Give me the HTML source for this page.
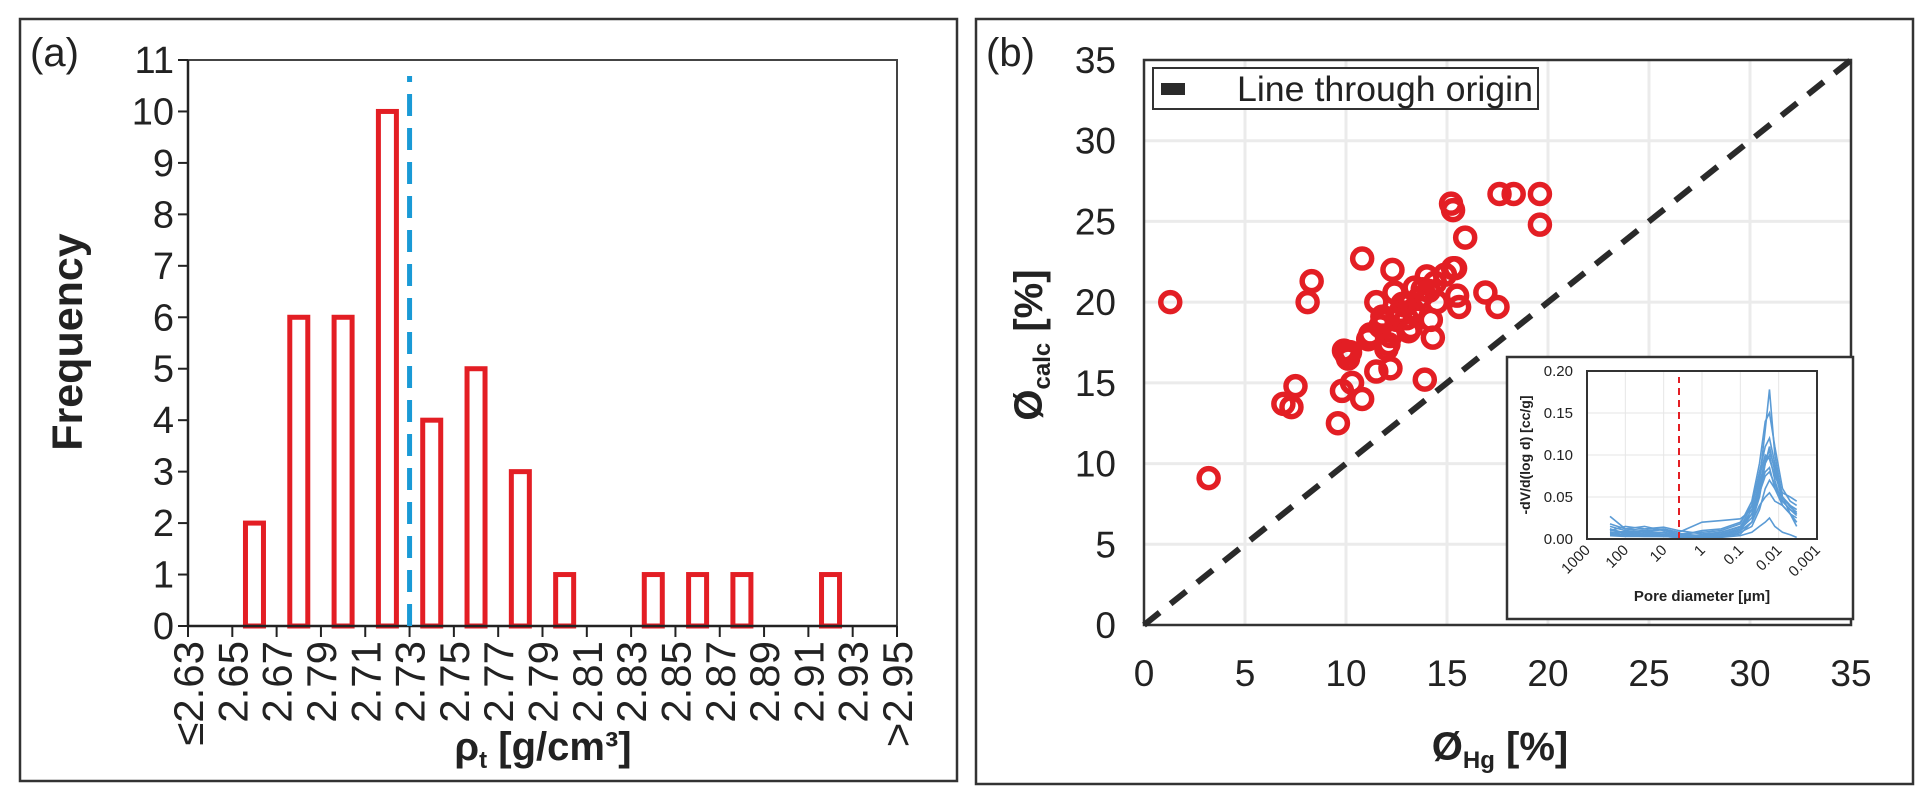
<!DOCTYPE html>
<html><head><meta charset="utf-8">
<style>
html,body{margin:0;padding:0;background:#fff;}
svg{display:block;font-family:"Liberation Sans",Arial,sans-serif;}
</style></head>
<body>
<svg id="fig" width="1930" height="797" viewBox="0 0 1930 797" xmlns="http://www.w3.org/2000/svg">
<rect x="20" y="19" width="937" height="762" fill="none" stroke="#333" stroke-width="2.5"/>
<rect x="976" y="19" width="937" height="765" fill="none" stroke="#333" stroke-width="2.5"/>
<text x="30" y="66" font-size="40" fill="#222">(a)</text>
<text x="986" y="66" font-size="40" fill="#222">(b)</text>
<g id="hist"></g>
<g id="scat"></g>
<g id="inset"></g>
</svg>
<script>
// ---------- Histogram data ----------
const binLabels = ["≤2.63","2.65","2.67","2.79","2.71","2.73","2.75","2.77","2.79","2.81","2.83","2.85","2.87","2.89","2.91","2.93",">2.95"];
const binIndex = [1,2,3,4,5,6,7,8,10,11,12,14];
const binCounts = [2,6,6,10,4,5,3,1,1,1,1,1];
const yTicksHist = [0,1,2,3,4,5,6,7,8,9,10,11];
const meanIndex = [5];

// ---------- Scatter data ----------
const phiHg = [1.3,3.2,8.3,8.1,7.5,6.9,7.3,9.6,9.8,10.3,10.8,9.9,10.1,10.8,12.3,11.5,12.2,13.9,14.3,11.1,11.5,16.9,17.5,15.5,15.6,15.4,14.9,14.0,13.2,14.2,12.0,12.4,12.7,13.6,14.5,11.7,12.2,15.2,15.3,17.6,18.3,19.6,19.6,15.9,15.3,13.0,13.8,12.9,11.9,10.0,11.2,12.6,13.4,12.8,13.3,13.7,14.1,12.5,11.8,13.1,14.4,12.1,10.2];
const phiCalc = [20.0,9.1,21.3,20.0,14.8,13.7,13.5,12.5,14.5,15.0,14.0,17.0,16.5,22.7,22.0,15.7,15.9,15.2,17.8,17.7,20.0,20.6,19.7,20.4,19.7,22.1,21.7,21.6,18.4,18.9,17.1,20.6,19.4,20.2,20.0,18.5,17.9,26.1,25.7,26.7,26.7,26.7,24.8,24.0,22.1,19.0,20.8,19.8,18.8,16.8,18.0,19.2,20.9,19.9,19.5,20.3,20.7,18.9,19.1,18.2,21.2,17.4,16.9];
const scatTicks = [0,5,10,15,20,25,30,35];

// ---------- Inset data ----------
const poreLogD = [2.4,2.0,1.5,1.0,0.6,0,-0.5,-1.0,-1.3,-1.5,-1.65,-1.76,-1.9,-2.1,-2.3,-2.47];
const curve1 = [0.015,0.010,0.008,0.008,0.005,0.004,0.005,0.010,0.030,0.070,0.130,0.178,0.100,0.050,0.030,0.020];
const curve2 = [0.027,0.012,0.010,0.012,0.008,0.020,0.022,0.024,0.035,0.060,0.090,0.110,0.080,0.045,0.035,0.030];
const curve3 = [0.008,0.005,0.004,0.004,0.002,0.002,0.003,0.006,0.020,0.050,0.090,0.100,0.070,0.040,0.030,0.025];
const curve4 = [0.010,0.008,0.006,0.005,0.003,0.005,0.008,0.015,0.030,0.060,0.080,0.085,0.060,0.040,0.030,0.020];
const curve5 = [0.005,0.004,0.003,0.003,0.002,0.002,0.003,0.008,0.015,0.035,0.060,0.070,0.060,0.050,0.040,0.035];
const curve6 = [0.012,0.006,0.005,0.006,0.004,0.010,0.012,0.020,0.040,0.080,0.110,0.120,0.090,0.050,0.040,0.030];
const curve7 = [0.006,0.004,0.004,0.003,0.002,0.003,0.004,0.010,0.020,0.040,0.050,0.055,0.045,0.040,0.030,0.015];
const curve8 = [0.004,0.003,0.003,0.003,0.002,0.002,0.002,0.004,0.008,0.015,0.020,0.025,0.015,0.008,0.005,0.002];
const curve9 = [0.018,0.012,0.015,0.010,0.006,0.008,0.010,0.018,0.045,0.090,0.140,0.150,0.110,0.060,0.045,0.040];
const curve10 = [0.010,0.015,0.012,0.014,0.010,0.006,0.008,0.014,0.040,0.075,0.100,0.095,0.075,0.055,0.050,0.045];
const curve11 = [0.007,0.009,0.006,0.008,0.004,0.003,0.006,0.012,0.025,0.055,0.075,0.080,0.065,0.045,0.035,0.028];
const curve12 = [0.012,0.007,0.009,0.011,0.006,0.004,0.006,0.012,0.035,0.065,0.095,0.105,0.085,0.050,0.038,0.032];
const insetXTicks = ["1000","100","10","1","0.1","0.01","0.001"];
const insetXLog = [3,2,1,0,-1,-2,-3];
const insetYTicks = [0,0.05,0.10,0.15,0.20];
const redLineLog = [0.6];

const NS="http://www.w3.org/2000/svg";
function mk(tag,attrs,parent,txt){const e=document.createElementNS(NS,tag);for(const k in attrs)e.setAttribute(k,attrs[k]);if(txt!==undefined)e.textContent=txt;parent.appendChild(e);return e;}

// ---------- Histogram ----------
(function(){
 const g=document.getElementById('hist');
 const L=188,R=897,T=60,B=626;
 const nT=binLabels.length-1;
 const xs=i=>L+(R-L)*i/nT;
 const ys=v=>B-(B-T)*v/11;
 mk('rect',{x:L,y:T,width:R-L,height:B-T,fill:'none',stroke:'#444','stroke-width':2},g);
 mk('line',{x1:L,y1:T,x2:L,y2:B,stroke:'#222','stroke-width':2.5},g);
 yTicksHist.forEach(v=>{
  const t=mk('line',{x1:L-10,y1:ys(v),x2:L,y2:ys(v),stroke:'#222','stroke-width':2},g);
  
  
  const tx=mk('text',{x:L-14,y:ys(v)+13,'font-size':38,'text-anchor':'end',fill:'#222'},g,String(v));
  
  
 });
 binLabels.forEach((lab,i)=>{
  const x=xs(i);
  mk('line',{x1:x,y1:B,x2:x,y2:B+11,stroke:'#222','stroke-width':2},g);
  const tx=mk('text',{x:0,y:0,'font-size':42,'text-anchor':'end',fill:'#222',transform:`translate(${x+15},${B+15}) rotate(-90)`},g,lab);
  
  
 });
 binIndex.forEach((bi,k)=>{
  const cx=(xs(bi)+xs(bi+1))/2;
  const r=mk('rect',{x:cx-9,y:ys(binCounts[k]),width:18,height:B-ys(binCounts[k]),fill:'#fff',stroke:'#e31e24','stroke-width':5},g);
  
  
 });
 mk('line',{x1:L,y1:B,x2:R,y2:B,stroke:'#222','stroke-width':2.5},g);
 const mx=xs(meanIndex[0]);
 const ml=mk('line',{x1:mx,y1:B,x2:mx,y2:76,stroke:'#1a9ad6','stroke-width':5,'stroke-dasharray':'22 12'},g);
 
 
 const yl=mk('text',{x:0,y:0,'font-size':43,'font-weight':'bold','text-anchor':'middle',fill:'#222',transform:'translate(82,342) rotate(-90)'},g,'Frequency');
 
 
 const xl=mk('text',{x:543,y:760,'font-size':40,'font-weight':'bold','text-anchor':'middle',fill:'#222'},g);
 
 
 xl.innerHTML='ρ<tspan font-size="24" dy="8">t</tspan><tspan dy="-8"> [g/cm³]</tspan>';
})();

// ---------- Scatter ----------
(function(){
 const g=document.getElementById('scat');
 const L=1144,R=1851,T=60,B=625;
 const xs=v=>L+(R-L)*v/35, ys=v=>B-(B-T)*v/35;
 scatTicks.forEach(v=>{
  if(v>0&&v<35){
   mk('line',{x1:xs(v),y1:T,x2:xs(v),y2:B,stroke:'#ebebeb','stroke-width':3},g);
   mk('line',{x1:L,y1:ys(v),x2:R,y2:ys(v),stroke:'#ebebeb','stroke-width':3},g);
  }
  const a=mk('text',{x:1116,y:ys(v)+13,'font-size':37,'text-anchor':'end',fill:'#222'},g,String(v));
  
  
  const b=mk('text',{x:xs(v),y:686,'font-size':37,'text-anchor':'middle',fill:'#222'},g,String(v));
  
  
 });
 mk('rect',{x:L,y:T,width:R-L,height:B-T,fill:'none',stroke:'#333','stroke-width':2.5},g);
 const d=mk('line',{x1:xs(0),y1:ys(0),x2:xs(35),y2:ys(35),stroke:'#2a2a2a','stroke-width':6,'stroke-dasharray':'20 14'},g);
 
 
 phiHg.forEach((v,i)=>{
  const c=mk('circle',{cx:xs(v),cy:ys(phiCalc[i]),r:9.5,fill:'none',stroke:'#e31e24','stroke-width':5.5},g);
  
  
 });
 const lg=mk('g',{},g);
 
 
 mk('rect',{x:1153,y:68,width:385,height:41,fill:'#fff',stroke:'#333','stroke-width':2},lg);
 mk('rect',{x:1161,y:83,width:24,height:12,fill:'#2a2a2a'},lg);
 mk('text',{x:1237,y:101,'font-size':35,fill:'#222',textLength:296,lengthAdjust:'spacingAndGlyphs'},lg,'Line through origin');
 const yl=mk('text',{x:0,y:0,'font-size':40,'font-weight':'bold','text-anchor':'middle',fill:'#222',transform:'translate(1042,345) rotate(-90)'},g);
 
 
 yl.innerHTML='Ø<tspan font-size="24" dy="8">calc</tspan><tspan dy="-8"> [%]</tspan>';
 const xl=mk('text',{x:1500,y:760,'font-size':40,'font-weight':'bold','text-anchor':'middle',fill:'#222'},g);
 
 
 xl.innerHTML='Ø<tspan font-size="24" dy="8">Hg</tspan><tspan dy="-8"> [%]</tspan>';
})();

// ---------- Inset ----------
(function(){
 const g=document.getElementById('inset');
 mk('rect',{x:1507,y:357,width:346,height:262,fill:'#fff',stroke:'#333','stroke-width':2.5},g);
 const L=1587,R=1817,T=371,B=539;
 const xs=lg=>L+(R-L)*(3-lg)/6, ys=v=>B-(B-T)*v/0.2;
 insetXLog.forEach((lg,i)=>{
  if(i>0&&i<insetXLog.length-1) mk('line',{x1:xs(lg),y1:T,x2:xs(lg),y2:B,stroke:'#e6e6e6','stroke-width':1},g);
  const t=mk('text',{x:0,y:0,'font-size':15,'text-anchor':'end',fill:'#222',transform:`translate(${xs(lg)+4},${B+12}) rotate(-45)`},g,insetXTicks[i]);
  
  
 });
 insetYTicks.forEach(v=>{
  if(v>0&&v<0.2) mk('line',{x1:L,y1:ys(v),x2:R,y2:ys(v),stroke:'#e6e6e6','stroke-width':1},g);
  const t=mk('text',{x:1573,y:ys(v)+5,'font-size':15,'text-anchor':'end',fill:'#222'},g,v.toFixed(2));
  
  
 });
 [curve1,curve2,curve3,curve4,curve5,curve6,curve7,curve8,curve9,curve10,curve11,curve12].forEach(cv=>{
  const p=mk('polyline',{points:cv.map((v,i)=>xs(poreLogD[i])+','+ys(v)).join(' '),fill:'none',stroke:'#5b9bd5','stroke-width':1.6},g);
  
  
 });
 const rl=mk('line',{x1:xs(redLineLog[0]),y1:B,x2:xs(redLineLog[0]),y2:T+6,stroke:'#e31e24','stroke-width':2,'stroke-dasharray':'7 5'},g);
 
 
 mk('rect',{x:L,y:T,width:R-L,height:B-T,fill:'none',stroke:'#333','stroke-width':2},g);
 const yl=mk('text',{x:0,y:0,'font-size':14,'font-weight':'bold','text-anchor':'middle',fill:'#222',transform:'translate(1530,455) rotate(-90)'},g,'-dV/d(log d) [cc/g]');
 
 
 const xl=mk('text',{x:1702,y:601,'font-size':15,'font-weight':'bold','text-anchor':'middle',fill:'#222'},g,'Pore diameter [µm]');
 
 
})();
</script>
</body></html>
